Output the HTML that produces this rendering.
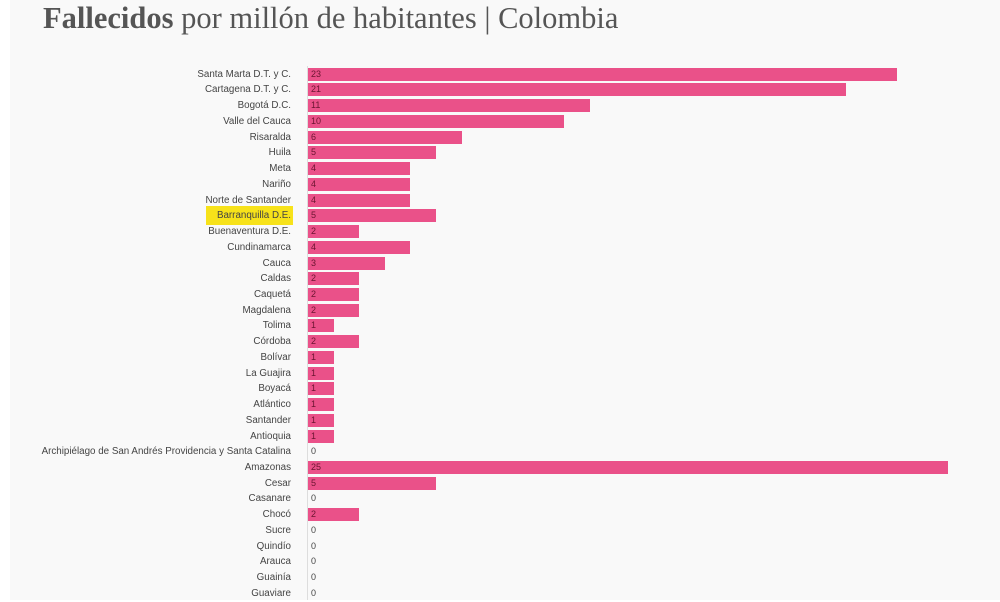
<!DOCTYPE html>
<html><head><meta charset="utf-8"><style>
body{margin:0;width:1000px;height:600px;overflow:hidden;background:#fff;font-family:"Liberation Sans",sans-serif}
#bg{position:absolute;left:10px;top:0;width:990px;height:600px;background:#f9f9f9}
h1{position:absolute;left:43px;top:0px;margin:0;font-family:"Liberation Serif",serif;font-weight:normal;font-size:30.5px;color:#555;white-space:nowrap;line-height:36px}
h1 b{font-weight:bold}
#axis{position:absolute;left:307px;top:66px;width:1px;height:534px;background:#ddd}
.r{position:absolute;left:0;height:15.73px;width:1000px}
.l{position:absolute;right:709px;top:1px;font-size:9.8px;color:#444;white-space:nowrap;line-height:13px}
.b{position:absolute;left:308px;top:1px;height:13px;background:#ea5189}
.v{position:absolute;left:311px;top:1px;font-size:9px;color:#6a1530;line-height:13px}
.z{color:#444}
#hl{position:absolute;left:206px;top:206px;width:87px;height:19px;background:#f7e21a}
</style></head><body>
<div id="bg"></div>
<h1><b>Fallecidos</b> por millón de habitantes | Colombia</h1>
<div id="axis"></div>
<div id="hl"></div>
<div class="r" style="top:66.7px"><span class="l">Santa Marta D.T. y C.</span><span class="b" style="width:588.8px"></span><span class="v">23</span></div>
<div class="r" style="top:82.4px"><span class="l">Cartagena D.T. y C.</span><span class="b" style="width:537.6px"></span><span class="v">21</span></div>
<div class="r" style="top:98.2px"><span class="l">Bogotá D.C.</span><span class="b" style="width:281.6px"></span><span class="v">11</span></div>
<div class="r" style="top:113.9px"><span class="l">Valle del Cauca</span><span class="b" style="width:256px"></span><span class="v">10</span></div>
<div class="r" style="top:129.6px"><span class="l">Risaralda</span><span class="b" style="width:153.6px"></span><span class="v">6</span></div>
<div class="r" style="top:145.4px"><span class="l">Huila</span><span class="b" style="width:128px"></span><span class="v">5</span></div>
<div class="r" style="top:161.1px"><span class="l">Meta</span><span class="b" style="width:102.4px"></span><span class="v">4</span></div>
<div class="r" style="top:176.8px"><span class="l">Nariño</span><span class="b" style="width:102.4px"></span><span class="v">4</span></div>
<div class="r" style="top:192.5px"><span class="l">Norte de Santander</span><span class="b" style="width:102.4px"></span><span class="v">4</span></div>
<div class="r" style="top:208.3px"><span class="l">Barranquilla D.E.</span><span class="b" style="width:128px"></span><span class="v">5</span></div>
<div class="r" style="top:224px"><span class="l">Buenaventura D.E.</span><span class="b" style="width:51.2px"></span><span class="v">2</span></div>
<div class="r" style="top:239.7px"><span class="l">Cundinamarca</span><span class="b" style="width:102.4px"></span><span class="v">4</span></div>
<div class="r" style="top:255.5px"><span class="l">Cauca</span><span class="b" style="width:76.8px"></span><span class="v">3</span></div>
<div class="r" style="top:271.2px"><span class="l">Caldas</span><span class="b" style="width:51.2px"></span><span class="v">2</span></div>
<div class="r" style="top:286.9px"><span class="l">Caquetá</span><span class="b" style="width:51.2px"></span><span class="v">2</span></div>
<div class="r" style="top:302.7px"><span class="l">Magdalena</span><span class="b" style="width:51.2px"></span><span class="v">2</span></div>
<div class="r" style="top:318.4px"><span class="l">Tolima</span><span class="b" style="width:25.6px"></span><span class="v">1</span></div>
<div class="r" style="top:334.1px"><span class="l">Córdoba</span><span class="b" style="width:51.2px"></span><span class="v">2</span></div>
<div class="r" style="top:349.8px"><span class="l">Bolívar</span><span class="b" style="width:25.6px"></span><span class="v">1</span></div>
<div class="r" style="top:365.6px"><span class="l">La Guajira</span><span class="b" style="width:25.6px"></span><span class="v">1</span></div>
<div class="r" style="top:381.3px"><span class="l">Boyacá</span><span class="b" style="width:25.6px"></span><span class="v">1</span></div>
<div class="r" style="top:397px"><span class="l">Atlántico</span><span class="b" style="width:25.6px"></span><span class="v">1</span></div>
<div class="r" style="top:412.8px"><span class="l">Santander</span><span class="b" style="width:25.6px"></span><span class="v">1</span></div>
<div class="r" style="top:428.5px"><span class="l">Antioquia</span><span class="b" style="width:25.6px"></span><span class="v">1</span></div>
<div class="r" style="top:444.2px"><span class="l">Archipiélago de San Andrés Providencia y Santa Catalina</span><span class="v z">0</span></div>
<div class="r" style="top:460px"><span class="l">Amazonas</span><span class="b" style="width:640px"></span><span class="v">25</span></div>
<div class="r" style="top:475.7px"><span class="l">Cesar</span><span class="b" style="width:128px"></span><span class="v">5</span></div>
<div class="r" style="top:491.4px"><span class="l">Casanare</span><span class="v z">0</span></div>
<div class="r" style="top:507.1px"><span class="l">Chocó</span><span class="b" style="width:51.2px"></span><span class="v">2</span></div>
<div class="r" style="top:522.9px"><span class="l">Sucre</span><span class="v z">0</span></div>
<div class="r" style="top:538.6px"><span class="l">Quindío</span><span class="v z">0</span></div>
<div class="r" style="top:554.3px"><span class="l">Arauca</span><span class="v z">0</span></div>
<div class="r" style="top:570.1px"><span class="l">Guainía</span><span class="v z">0</span></div>
<div class="r" style="top:585.8px"><span class="l">Guaviare</span><span class="v z">0</span></div>
</body></html>
